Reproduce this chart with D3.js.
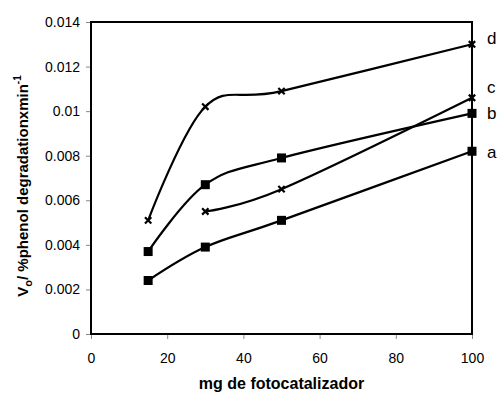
<!DOCTYPE html>
<html>
<head>
<meta charset="utf-8">
<script src="https://cdn.jsdelivr.net/npm/d3@7"></script>
<style>
  html, body { margin: 0; padding: 0; background: #fff; }
  svg { display: block; font-family: "Liberation Sans", Arial, sans-serif; }
</style>
</head>
<body>
<svg id="chart" width="501" height="395"></svg>
<script>
// Photocatalyst mass (mg) and initial phenol degradation rate per series
const massA = [15, 30, 50, 100];
const rateA = [0.0024, 0.0039, 0.0051, 0.0082];
const massB = [15, 30, 50, 100];
const rateB = [0.0037, 0.0067, 0.0079, 0.0099];
const massC = [30, 50, 100];
const rateC = [0.0055, 0.0065, 0.0106];
const massD = [15, 30, 50, 100];
const rateD = [0.0051, 0.0102, 0.0109, 0.0130];

const seriesNames = ["a", "b", "c", "d"];
const seriesMarkers = ["square", "square", "cross", "cross"];
const labelOffsets = [1, 0, -10, -6];

const xTicks = [0, 20, 40, 60, 80, 100];
const yTicks = [0, 0.002, 0.004, 0.006, 0.008, 0.01, 0.012, 0.014];

const series = [
  { name: seriesNames[0], x: massA, y: rateA, marker: seriesMarkers[0], dy: labelOffsets[0] },
  { name: seriesNames[1], x: massB, y: rateB, marker: seriesMarkers[1], dy: labelOffsets[1] },
  { name: seriesNames[2], x: massC, y: rateC, marker: seriesMarkers[2], dy: labelOffsets[2] },
  { name: seriesNames[3], x: massD, y: rateD, marker: seriesMarkers[3], dy: labelOffsets[3] }
];

const margin = { left: 91, top: 22, right: 29, bottom: 61 };
const W = 501, H = 395;
const innerW = W - margin.left - margin.right;
const innerH = H - margin.top - margin.bottom;

const svg = d3.select("#chart");
const g = svg.append("g").attr("transform", `translate(${margin.left},${margin.top})`);

const x = d3.scaleLinear().domain([0, 100]).range([0, innerW]);
const y = d3.scaleLinear().domain([0, 0.014]).range([innerH, 0]);

const fmt = d => d === 0 ? "0" : String(+d.toFixed(3));

// Axes
const yAxis = g.append("g")
  .call(d3.axisLeft(y).tickValues(yTicks).tickFormat(fmt).tickSize(5).tickPadding(6));
const xAxis = g.append("g")
  .attr("transform", `translate(0,${innerH})`)
  .call(d3.axisBottom(x).tickValues(xTicks).tickSize(5).tickPadding(14));

[yAxis, xAxis].forEach(a => {
  a.select(".domain").remove();
  a.selectAll(".tick line").attr("stroke", "#888").attr("stroke-width", 1);
  a.selectAll(".tick text")
    .attr("fill", "#000")
    .style("font-size", "14px")
    .style("font-family", "'Liberation Sans', Arial, sans-serif");
});

// Plot frame
g.append("rect")
  .attr("x", 0).attr("y", 0)
  .attr("width", innerW).attr("height", innerH)
  .attr("fill", "none").attr("stroke", "#000").attr("stroke-width", 2);

// Smoothed series lines
const line = d3.line()
  .x(d => x(d[0]))
  .y(d => y(d[1]))
  .curve(d3.curveCardinal.tension(0));

series.forEach(s => {
  const pts = s.x.map((v, i) => [v, s.y[i]]);
  g.append("path")
    .datum(pts)
    .attr("d", line)
    .attr("fill", "none")
    .attr("stroke", "#000")
    .attr("stroke-width", 2.2);

  const sym = s.marker === "square"
    ? d3.symbol().type(d3.symbolSquare).size(81)
    : d3.symbol().type(d3.symbolTimes).size(28);

  g.selectAll(null)
    .data(pts)
    .join("path")
    .attr("transform", d => `translate(${x(d[0])},${y(d[1])})`)
    .attr("d", sym)
    .attr("fill", s.marker === "square" ? "#000" : "none")
    .attr("stroke", "#000")
    .attr("stroke-width", s.marker === "square" ? 0 : 2.2);

  const last = pts[pts.length - 1];
  g.append("text")
    .attr("x", x(last[0]) + 15)
    .attr("y", y(last[1]) + s.dy)
    .attr("dominant-baseline", "central")
    .style("font-size", "17px")
    .text(s.name);
});

// Axis titles
svg.append("text")
  .attr("x", margin.left + innerW / 2)
  .attr("y", 389)
  .attr("text-anchor", "middle")
  .style("font-size", "16px")
  .style("font-weight", "bold")
  .text("mg de fotocatalizador");

const yTitle = svg.append("text")
  .attr("transform", "translate(28,186) rotate(-90)")
  .attr("text-anchor", "middle")
  .style("font-size", "15px")
  .style("font-weight", "bold");
yTitle.append("tspan").text("V");
yTitle.append("tspan").attr("dy", 4).style("font-size", "11px").text("o");
yTitle.append("tspan").attr("dy", -4).text("/ %phenol degradationxmin");
yTitle.append("tspan").attr("dy", -7).style("font-size", "10px").text("-1");
</script>
</body>
</html>
